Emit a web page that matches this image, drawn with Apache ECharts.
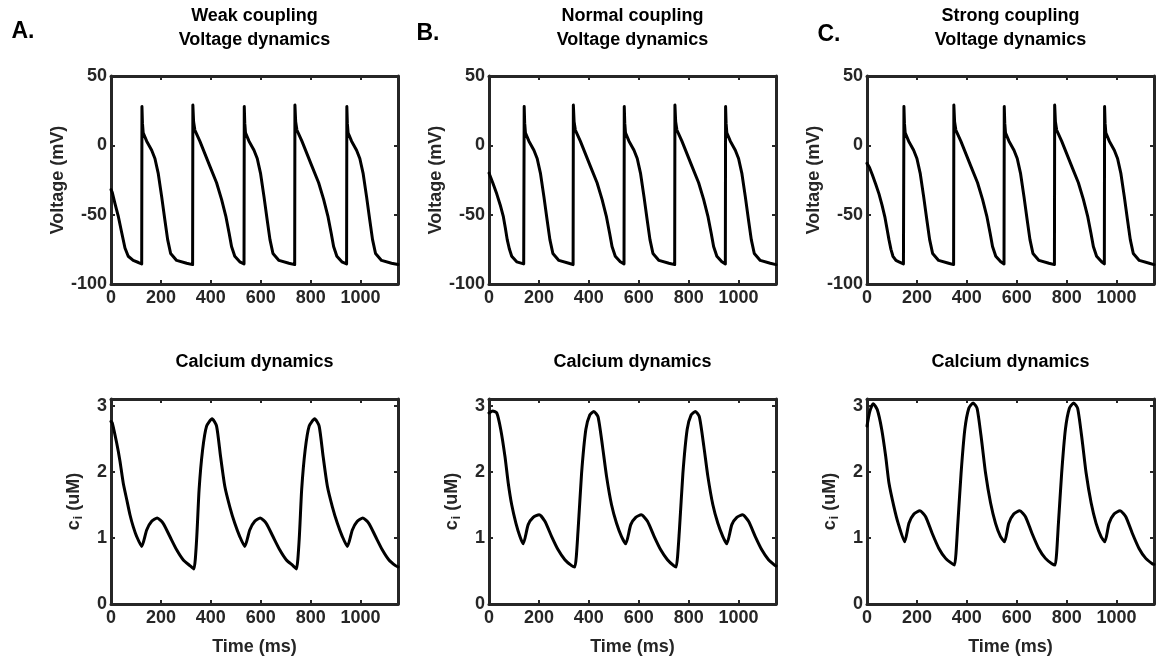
<!DOCTYPE html>
<html>
<head>
<meta charset="utf-8">
<script src="https://cdn.jsdelivr.net/npm/echarts@6/dist/echarts.min.js"></script>
<style>
html,body{margin:0;padding:0;background:#fff;}
#chart{width:1157px;height:661px;}
</style>
</head>
<body>
<div id="chart"></div>
<script>
// ---------- data ----------
const panelLetters = ['A.', 'B.', 'C.'];
const couplingTitles = ['Weak coupling', 'Normal coupling', 'Strong coupling'];
const voltageTitle = 'Voltage dynamics';
const calciumTitle = 'Calcium dynamics';
const xTicks = [0, 200, 400, 600, 800, 1000];
const voltageTicks = [-100, -50, 0, 50];
const calciumTicks = [0, 1, 2, 3];

// time (ms), voltage (mV)
const voltageWeak = [
  [0,-32],[5,-34],[16,-42],[29,-51],[43,-63],[56,-74],[69,-80],[89,-83],[110,-84.5],[123,-85.5],
  [124,28],[126,16],[129,9],[143,3],[163,-3.5],[176,-9.5],[189,-20],[203,-37],[216,-54],[227,-68],[239,-78],[263,-83],[303,-85],[327,-86],
  [328,29],[331,17],[336,11],[356,3],[396,-15],[423,-27],[443,-39],[460,-51],[473,-63],[483,-73],[496,-80],[516,-84],[533,-85.5],
  [534,28],[536,16],[539,9],[553,3],[573,-3.5],[586,-9.5],[599,-20],[613,-37],[626,-54],[637,-68],[649,-78],[673,-83],[713,-85],[736,-86],
  [737,29],[740,17],[745,11],[765,3],[805,-15],[832,-27],[852,-39],[869,-51],[882,-63],[892,-73],[905,-80],[925,-84],[944,-85.5],
  [945,28],[947,16],[950,9],[964,3],[984,-3.5],[997,-9.5],[1010,-20],[1024,-37],[1037,-54],[1048,-68],[1060,-78],[1084,-83],[1124,-85],[1150,-86]
];
const voltageNormal = [
  [0,-20],[15,-27],[31,-35],[45,-43],[57,-51],[65,-59],[73,-68],[82,-75],[91,-80],[111,-84],[139,-85.5],
  [141,28],[143,16],[146,9],[160,3],[180,-3.5],[193,-9.5],[206,-20],[220,-37],[233,-54],[244,-68],[256,-78],[280,-83],[320,-85],[337,-86],
  [338,29],[341,17],[346,11],[366,3],[406,-15],[433,-27],[453,-39],[470,-51],[483,-63],[493,-73],[506,-80],[526,-84],[541,-85.5],
  [542,28],[544,16],[547,9],[561,3],[581,-3.5],[594,-9.5],[607,-20],[621,-37],[634,-54],[645,-68],[657,-78],[681,-83],[721,-85],[744,-86],
  [745,29],[748,17],[753,11],[773,3],[813,-15],[840,-27],[860,-39],[877,-51],[890,-63],[900,-73],[913,-80],[933,-84],[947,-85.5],
  [948,28],[950,16],[953,9],[967,3],[987,-3.5],[1000,-9.5],[1013,-20],[1027,-37],[1040,-54],[1051,-68],[1063,-78],[1087,-83],[1127,-85],[1150,-86]
];
const voltageStrong = [
  [0,-13],[10,-16],[21,-21],[35,-28],[48,-35],[60,-43],[72,-52],[80,-60],[88,-68],[96,-75],[104,-80],[116,-83],[128,-84],[146,-85.5],
  [148,28],[150,16],[153,9],[167,3],[187,-3.5],[200,-9.5],[213,-20],[227,-37],[240,-54],[251,-68],[263,-78],[287,-83],[327,-85],[347,-86],
  [348,29],[351,17],[356,11],[376,3],[416,-15],[443,-27],[463,-39],[480,-51],[493,-63],[503,-73],[516,-80],[536,-84],[549,-85.5],
  [550,28],[552,16],[555,9],[569,3],[589,-3.5],[602,-9.5],[615,-20],[629,-37],[642,-54],[653,-68],[665,-78],[689,-83],[729,-85],[751,-86],
  [752,29],[755,17],[760,11],[780,3],[820,-15],[847,-27],[867,-39],[884,-51],[897,-63],[907,-73],[920,-80],[940,-84],[951,-85.5],
  [952,28],[954,16],[957,9],[971,3],[991,-3.5],[1004,-9.5],[1017,-20],[1031,-37],[1044,-54],[1055,-68],[1067,-78],[1091,-83],[1131,-85],[1150,-86]
];

// time (ms), intracellular calcium c_i (uM)
const calciumWeak = [
  [0,2.76],[5,2.74],[23,2.43],[36,2.16],[49,1.83],[63,1.58],[76,1.35],[89,1.17],[103,1.02],[123,0.87],
  [143,1.12],[163,1.25],[185,1.30],[209,1.22],[236,1.02],[263,0.82],[289,0.67],[316,0.58],[332,0.53],
  [343,0.97],[353,1.73],[367,2.33],[383,2.69],[405,2.80],[423,2.69],[439,2.23],[456,1.78],[476,1.47],[496,1.22],[516,1.02],[536,0.87],
  [556,1.12],[576,1.25],[598,1.30],[622,1.22],[649,1.02],[676,0.82],[702,0.67],[729,0.58],[743,0.53],
  [754,0.97],[764,1.73],[778,2.33],[794,2.69],[816,2.80],[834,2.69],[850,2.23],[867,1.78],[887,1.47],[907,1.22],[927,1.02],[947,0.87],
  [967,1.12],[987,1.25],[1009,1.30],[1033,1.22],[1060,1.02],[1087,0.82],[1113,0.67],[1140,0.58],[1150,0.56]
];
const calciumNormal = [
  [0,2.89],[15,2.92],[31,2.89],[47,2.64],[64,2.23],[77,1.83],[91,1.50],[108,1.22],[124,1.02],[137,0.91],
  [157,1.20],[177,1.31],[201,1.35],[224,1.25],[251,1.02],[277,0.82],[304,0.67],[331,0.58],[344,0.56],
  [357,1.12],[371,1.98],[388,2.64],[404,2.86],[420,2.91],[437,2.83],[455,2.38],[471,1.93],[491,1.50],[511,1.22],[531,1.02],[548,0.91],
  [568,1.20],[588,1.31],[610,1.35],[635,1.25],[662,1.02],[688,0.82],[715,0.67],[740,0.58],[750,0.56],
  [763,1.12],[777,1.98],[794,2.64],[810,2.86],[827,2.91],[843,2.83],[861,2.38],[877,1.93],[897,1.50],[917,1.22],[937,1.02],[953,0.91],
  [973,1.20],[993,1.31],[1016,1.35],[1040,1.25],[1067,1.02],[1093,0.82],[1120,0.67],[1147,0.58],[1150,0.575]
];
const calciumStrong = [
  [0,2.69],[11,2.91],[25,3.03],[41,2.94],[59,2.64],[75,2.23],[88,1.83],[108,1.47],[125,1.22],[151,0.94],
  [168,1.22],[188,1.36],[212,1.41],[235,1.32],[261,1.07],[288,0.84],[315,0.69],[341,0.61],[351,0.59],
  [364,1.22],[377,1.98],[392,2.64],[408,2.96],[425,3.04],[441,2.96],[459,2.48],[475,1.98],[495,1.53],[515,1.22],[535,1.02],[551,0.94],
  [568,1.22],[588,1.36],[612,1.41],[635,1.32],[661,1.07],[688,0.84],[715,0.69],[741,0.61],[754,0.59],
  [767,1.22],[780,1.98],[795,2.64],[811,2.96],[828,3.04],[844,2.96],[862,2.48],[878,1.98],[898,1.53],[918,1.22],[938,1.02],[953,0.94],
  [970,1.22],[990,1.36],[1014,1.41],[1037,1.32],[1063,1.07],[1090,0.84],[1117,0.69],[1143,0.61],[1150,0.60]
];

const voltageSets = [voltageWeak, voltageNormal, voltageStrong];
const calciumSets = [calciumWeak, calciumNormal, calciumStrong];

// ---------- layout / style ----------
const FONT = '"Liberation Sans", Arial, Helvetica, sans-serif';
const TXT = '#262626';
const AX = '#262626';
const FS = 18;
const lefts = [111, 489, 867];
const plotW = 287;
const topRow = {top: 76, height: 208};
const botRow = {top: 399, height: 205};

const grids = [], xAxes = [], yAxes = [], series = [], graphics = [];
const plain = v => String(v);

function addPanel(row, col, yTicks, ymin, ymax, data, isCalcium) {
  const gi = grids.length;
  grids.push({left: lefts[col], top: row.top, width: plotW, height: row.height, containLabel: false});
  const lineStyle = {color: AX, width: 3};
  const tickStyle = {color: AX, width: 2};
  const labelStyle = {color: TXT, fontFamily: FONT, fontWeight: 'bold', fontSize: FS, formatter: plain};
  xAxes.push({
    type: 'value', gridIndex: gi, position: 'bottom', min: 0, max: 1150, interval: 200,
    axisLine: {show: true, onZero: false, lineStyle},
    axisTick: {show: true, inside: true, length: 4, lineStyle: tickStyle, customValues: xTicks},
    axisLabel: Object.assign({margin: 5, customValues: xTicks}, labelStyle),
    splitLine: {show: false},
    name: isCalcium ? 'Time (ms)' : '', nameLocation: 'middle', nameGap: 34,
    nameTextStyle: {color: TXT, fontFamily: FONT, fontWeight: 'bold', fontSize: FS}
  });
  xAxes.push({
    type: 'value', gridIndex: gi, position: 'top', min: 0, max: 1150, interval: 200,
    axisLine: {show: true, onZero: false, lineStyle},
    axisTick: {show: true, inside: true, length: 4, lineStyle: tickStyle, customValues: xTicks},
    axisLabel: {show: false}, splitLine: {show: false}
  });
  const yName = isCalcium ? '{c|c}{s|i}{c| (uM)}' : 'Voltage (mV)';
  yAxes.push({
    type: 'value', gridIndex: gi, position: 'left', min: ymin, max: ymax, interval: isCalcium ? 1 : 50,
    axisLine: {show: true, onZero: false, lineStyle},
    axisTick: {show: true, inside: true, length: 4, lineStyle: tickStyle, customValues: yTicks},
    axisLabel: Object.assign({margin: 4, customValues: yTicks}, labelStyle),
    splitLine: {show: false},
    name: yName, nameLocation: 'middle', nameRotate: 90, nameGap: isCalcium ? 26 : 42,
    nameTextStyle: {
      color: TXT, fontFamily: FONT, fontWeight: 'bold', fontSize: FS,
      rich: {
        c: {color: TXT, fontFamily: FONT, fontWeight: 'bold', fontSize: FS, lineHeight: 22, verticalAlign: 'middle'},
        s: {color: TXT, fontFamily: FONT, fontWeight: 'bold', fontSize: 12, lineHeight: 22, padding: [9, 0, 0, 1], verticalAlign: 'middle'}
      }
    }
  });
  yAxes.push({
    type: 'value', gridIndex: gi, position: 'right', min: ymin, max: ymax, interval: isCalcium ? 1 : 50,
    axisLine: {show: true, onZero: false, lineStyle},
    axisTick: {show: true, inside: true, length: 4, lineStyle: tickStyle, customValues: yTicks},
    axisLabel: {show: false}, splitLine: {show: false}
  });
  series.push({
    type: 'line', xAxisIndex: 2 * gi, yAxisIndex: 2 * gi, data: data,
    showSymbol: false, symbol: 'none', smooth: isCalcium ? 0.2 : false,
    lineStyle: {color: '#000', width: 3, join: 'round', cap: 'round'},
    clip: true, z: 1
  });
}

for (let c = 0; c < 3; c++) addPanel(topRow, c, voltageTicks, -100, 50, voltageSets[c], false);
for (let c = 0; c < 3; c++) addPanel(botRow, c, calciumTicks, 0, 3.1, calciumSets[c], true);

const letterPos = [[23, 32], [428, 34], [829, 35]];
for (let c = 0; c < 3; c++) {
  const cx = lefts[c] + plotW / 2;
  graphics.push({type: 'text', x: letterPos[c][0], y: letterPos[c][1],
    style: {text: panelLetters[c], fill: '#000', font: 'bold 23px ' + FONT, align: 'center', verticalAlign: 'middle'}});
  graphics.push({type: 'text', x: cx, y: 16,
    style: {text: couplingTitles[c], fill: '#000', font: 'bold ' + FS + 'px ' + FONT, align: 'center', verticalAlign: 'middle'}});
  graphics.push({type: 'text', x: cx, y: 40,
    style: {text: voltageTitle, fill: '#000', font: 'bold ' + FS + 'px ' + FONT, align: 'center', verticalAlign: 'middle'}});
  graphics.push({type: 'text', x: cx, y: 362,
    style: {text: calciumTitle, fill: '#000', font: 'bold ' + FS + 'px ' + FONT, align: 'center', verticalAlign: 'middle'}});
}

const chart = echarts.init(document.getElementById('chart'), null, {renderer: 'canvas'});
chart.setOption({
  animation: false,
  backgroundColor: '#fff',
  grid: grids, xAxis: xAxes, yAxis: yAxes, series: series, graphic: graphics
});
</script>
</body>
</html>
